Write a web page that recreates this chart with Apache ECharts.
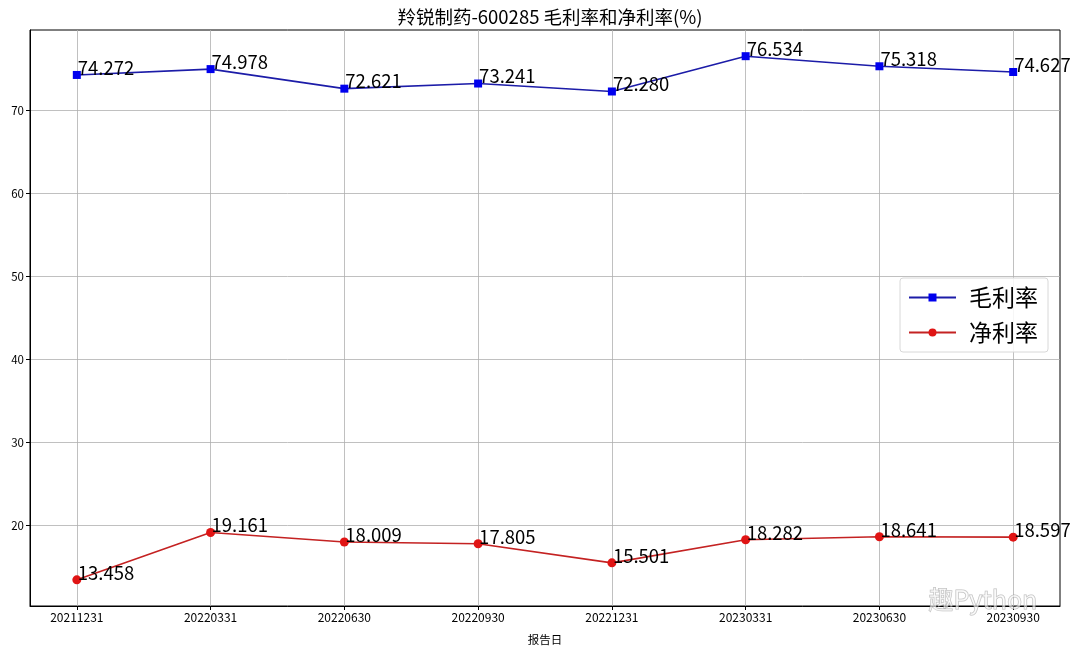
<!DOCTYPE html>
<html>
<head>
<meta charset="utf-8">
<script src="https://cdn.jsdelivr.net/npm/echarts@6/dist/echarts.min.js"></script>
<style>html,body{margin:0;padding:0;background:#fff}#c{width:1080px;height:653px}</style>
</head>
<body>
<div id="c"></div>
<script>
const categories = ['20211231','20220331','20220630','20220930','20221231','20230331','20230630','20230930'];
const grossMargin = [74.272, 74.978, 72.621, 73.241, 72.280, 76.534, 75.318, 74.627];
const netMargin = [13.458, 19.161, 18.009, 17.805, 15.501, 18.282, 18.641, 18.597];
const yTicks = [20, 30, 40, 50, 60, 70];
const xTicks = categories.map((c, i) => i);

const FONT = '"Noto Sans CJK SC", "Noto Sans", sans-serif';
const chart = echarts.init(document.getElementById('c'), null, {renderer: 'canvas'});

const allVals = grossMargin.concat(netMargin);
const vmin = Math.min(...allVals), vmax = Math.max(...allVals);
const pad = (vmax - vmin) * 0.05;
const n = categories.length - 1;

const labelCfg = {
  show: true, position: 'inside', align: 'left', verticalAlign: 'bottom',
  offset: [1, 2], color: '#000', fontSize: 18.5, fontFamily: FONT,
  formatter: p => p.value[1].toFixed(3)
};

chart.setOption({
  animation: false,
  title: {
    text: '羚锐制药-600285 毛利率和净利率(%)', left: 545, textAlign: 'center', top: 3,
    textStyle: {fontSize: 18.5, fontWeight: 'normal', color: '#000', fontFamily: FONT}
  },
  grid: {left: 30, right: 20, top: 30, bottom: 47, show: true, borderColor: '#000', borderWidth: 1, backgroundColor: 'transparent'},
  legend: {
    right: 32, top: 278, orient: 'vertical', itemWidth: 47, itemHeight: 10, itemGap: 12,
    padding: [8, 10, 8, 8],
    borderColor: '#d8d8d8', borderWidth: 1, borderRadius: 3, backgroundColor: 'rgba(255,255,255,0.85)',
    textStyle: {fontSize: 23, color: '#000', fontFamily: FONT, padding: [0, 0, 0, 8]},
    data: ['毛利率', '净利率']
  },
  xAxis: {
    type: 'value', min: -0.35, max: n + 0.35,
    name: '报告日', nameLocation: 'middle', nameGap: 28,
    nameTextStyle: {fontSize: 11.5, color: '#000', fontFamily: FONT},
    axisLine: {show: true, onZero: false, lineStyle: {color: '#000'}},
    axisTick: {show: true, customValues: xTicks, length: 4, lineStyle: {color: '#000'}},
    axisLabel: {customValues: xTicks, fontSize: 12, color: '#000', fontFamily: FONT, margin: 5,
      formatter: v => categories[Math.round(v)] || ''},
    splitLine: {show: true, customValues: xTicks, lineStyle: {color: '#b0b0b0', width: 0.8}}
  },
  yAxis: {
    type: 'value', min: vmin - pad, max: vmax + pad,
    axisLine: {show: true, onZero: false, lineStyle: {color: '#000'}},
    axisTick: {show: true, customValues: yTicks, length: 4, lineStyle: {color: '#000'}},
    axisLabel: {customValues: yTicks, fontSize: 11.5, color: '#000', fontFamily: FONT, margin: 6},
    splitLine: {show: true, customValues: yTicks, lineStyle: {color: '#b0b0b0', width: 0.8}}
  },
  series: [
    {
      name: '毛利率', type: 'line', symbol: 'rect', symbolSize: 8,
      data: grossMargin.map((v, i) => [i, v]),
      lineStyle: {color: '#1c1ca8', width: 1.6},
      itemStyle: {color: '#0000ee'},
      label: labelCfg, z: 3
    },
    {
      name: '净利率', type: 'line', symbol: 'circle', symbolSize: 9,
      data: netMargin.map((v, i) => [i, v]),
      lineStyle: {color: '#c42222', width: 1.6},
      itemStyle: {color: '#e01414'},
      label: labelCfg, z: 3
    }
  ],
  graphic: [
    {type: 'text', left: 928, top: 586, z: 10, silent: true,
      style: {text: '趣Python', fontSize: 25, fill: 'rgba(255,255,255,0.6)', stroke: 'rgba(140,140,140,0.6)', lineWidth: 1, fontFamily: FONT}}
  ]
});
</script>
</body>
</html>
